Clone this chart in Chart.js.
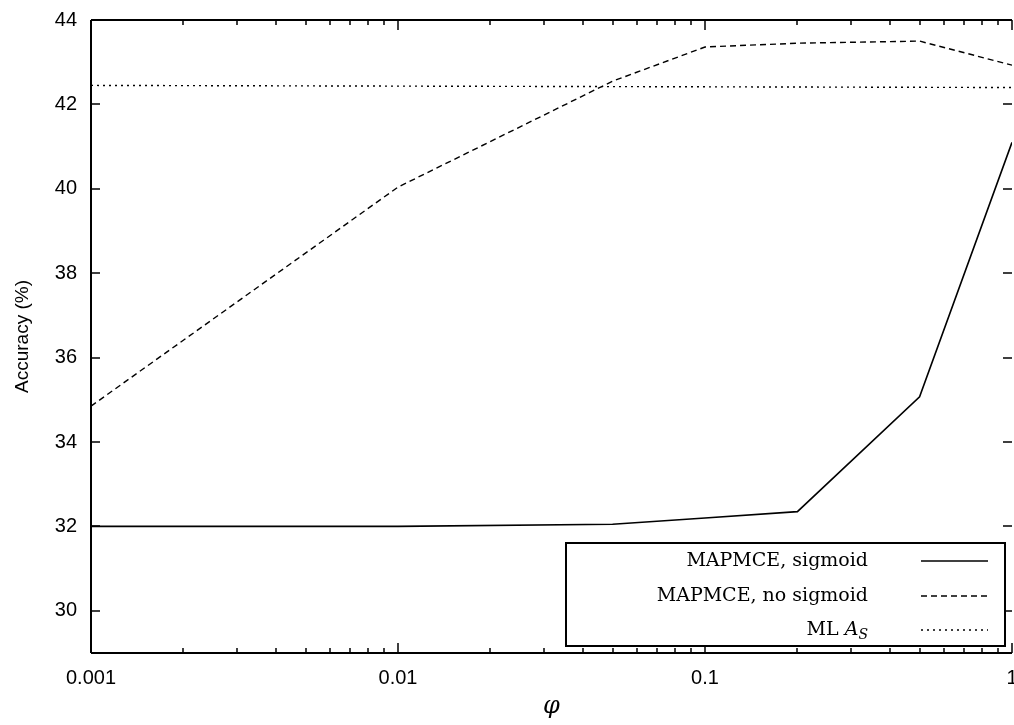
<!DOCTYPE html>
<html>
<head>
<meta charset="utf-8">
<script src="https://cdn.jsdelivr.net/npm/chart.js@4.4.1/dist/chart.umd.min.js"></script>
<style>
  html, body { margin: 0; padding: 0; background: #fff; }
  #wrap { width: 1014px; height: 725px; position: relative; }
</style>
</head>
<body>
<div id="wrap"><canvas id="chart"></canvas></div>
<script>
// values
const phi = [0.001, 0.01, 0.05, 0.1, 0.2, 0.5, 1];
const sigmoidAcc = [32.0, 32.0, 32.05, 32.2, 32.35, 35.07, 41.1];
const noSigmoidAcc = [34.85, 40.04, 42.55, 43.36, 43.45, 43.5, 42.93];
const mlPhi = [0.001, 1];
const mlAcc = [42.45, 42.4];
const xLabels = [0.001, 0.01, 0.1, 1];
const yTicks = [30, 32, 34, 36, 38, 40, 42, 44];
const legendNames = ['MAPMCE, sigmoid', 'MAPMCE, no sigmoid', 'ML A_S'];

const pts = (xs, ys) => xs.map((x, i) => ({ x: x, y: ys[i] }));

function minorTicks(min, max) {
  const out = [];
  for (let e = Math.log10(min); e < Math.log10(max); e++) {
    for (let k = 1; k < 10; k++) out.push(k * Math.pow(10, e));
  }
  out.push(max);
  return out;
}

const frame = {
  id: 'frame',
  afterDatasetsDraw(chart) {
    const { ctx, chartArea: a, scales } = chart;
    const xs = scales.x, ys = scales.y;
    ctx.save();
    ctx.strokeStyle = '#000';
    ctx.lineWidth = 2;
    ctx.beginPath();
    ctx.moveTo(a.left, a.top); ctx.lineTo(a.right, a.top);
    ctx.moveTo(a.left, a.top); ctx.lineTo(a.left, a.bottom);
    ctx.moveTo(a.left, a.bottom); ctx.lineTo(a.right, a.bottom);
    ctx.stroke();
    ctx.lineWidth = 1.5;
    ctx.beginPath();
    minorTicks(0.001, 1).forEach(v => {
      const px = Math.round(xs.getPixelForValue(v));
      const len = xLabels.includes(v) ? 10 : 5;
      ctx.moveTo(px, a.bottom); ctx.lineTo(px, a.bottom - len);
      ctx.moveTo(px, a.top); ctx.lineTo(px, a.top + len);
    });
    yTicks.forEach(v => {
      const py = Math.round(ys.getPixelForValue(v));
      ctx.moveTo(a.left, py); ctx.lineTo(a.left + 9, py);
      ctx.moveTo(a.right, py); ctx.lineTo(a.right - 9, py);
    });
    ctx.stroke();

    // legend box
    const bx = 566, by = 543, bw = 439, bh = 103;
    ctx.fillStyle = '#fff';
    ctx.fillRect(bx, by, bw, bh);
    ctx.lineWidth = 2;
    ctx.strokeRect(bx, by, bw, bh);
    ctx.fillStyle = '#000';
    ctx.textAlign = 'right';
    ctx.textBaseline = 'middle';
    const rows = [561, 596, 630];
    chart.data.datasets.forEach((ds, i) => {
      const y = rows[i];
      ctx.font = '19px "DejaVu Serif", "Liberation Serif", serif';
      if (legendNames[i] === 'ML A_S') {
        ctx.font = 'italic 14px "DejaVu Serif", serif';
        ctx.fillText('S', 868, y + 5);
        const sw = ctx.measureText('S').width;
        ctx.font = 'italic 19px "DejaVu Serif", serif';
        ctx.fillText('A', 868 - sw, y);
        const aw = ctx.measureText('A').width;
        ctx.font = '19px "DejaVu Serif", serif';
        ctx.fillText('ML ', 868 - sw - aw, y);
      } else {
        ctx.fillText(legendNames[i], 868, y);
      }
      ctx.strokeStyle = ds.borderColor;
      ctx.lineWidth = ds.borderWidth;
      ctx.setLineDash(ds.borderDash || []);
      ctx.beginPath();
      ctx.moveTo(921, y); ctx.lineTo(988, y);
      ctx.stroke();
      ctx.setLineDash([]);
    });
    ctx.restore();
  }
};

new Chart(document.getElementById('chart'), {
  type: 'line',
  data: {
    datasets: [
      { label: legendNames[0], data: pts(phi, sigmoidAcc), borderColor: '#000', borderWidth: 1.6, pointRadius: 0, tension: 0 },
      { label: legendNames[1], data: pts(phi, noSigmoidAcc), borderColor: '#000', borderWidth: 1.4, borderDash: [6, 4], pointRadius: 0, tension: 0 },
      { label: legendNames[2], data: pts(mlPhi, mlAcc), borderColor: '#000', borderWidth: 1.4, borderDash: [2, 4], pointRadius: 0, tension: 0 }
    ]
  },
  options: {
    responsive: true,
    maintainAspectRatio: false,
    animation: false,
    layout: { padding: { top: 20, right: 2, left: 0, bottom: 0 } },
    plugins: { legend: { display: false }, tooltip: { enabled: false } },
    scales: {
      x: {
        type: 'logarithmic',
        min: 0.001,
        max: 1,
        afterBuildTicks: s => { s.ticks = xLabels.map(v => ({ value: v })); },
        afterFit: s => { s.height = 72; s.paddingLeft = 0; s.paddingRight = 0; },
        grid: { display: false, drawTicks: false },
        border: { display: false },
        ticks: {
          padding: 13,
          autoSkip: false,
          maxRotation: 0,
          color: '#000',
          font: { family: '"Liberation Sans", Arial, sans-serif', size: 20 },
          callback: v => String(v)
        },
        title: {
          display: true,
          text: 'φ',
          color: '#000',
          padding: { top: 2 },
          font: { family: '"DejaVu Serif", serif', size: 24, style: 'italic' }
        }
      },
      y: {
        min: 29,
        max: 44,
        afterBuildTicks: s => { s.ticks = yTicks.map(v => ({ value: v })); },
        afterFit: s => { s.width = 91; s.paddingTop = 0; s.paddingBottom = 0; },
        grid: { display: false, drawTicks: false },
        border: { display: false },
        ticks: {
          padding: 14,
          color: '#000',
          font: { family: '"Liberation Sans", Arial, sans-serif', size: 20 }
        },
        title: {
          display: true,
          text: 'Accuracy (%)',
          color: '#000',
          padding: { bottom: 0, top: 11 },
          font: { family: '"Liberation Sans", Arial, sans-serif', size: 19 }
        }
      }
    }
  },
  plugins: [frame]
});
</script>
</body>
</html>
